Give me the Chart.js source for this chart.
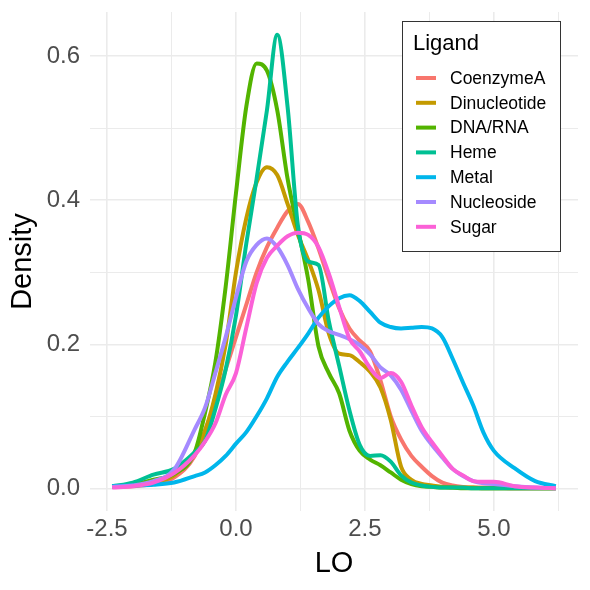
<!DOCTYPE html>
<html>
<head>
<meta charset="utf-8">
<script src="https://cdn.jsdelivr.net/npm/chart.js@4.4.1/dist/chart.umd.min.js"></script>
<style>
  html, body { margin: 0; padding: 0; background: #fff; }
  canvas { display: block; }
</style>
</head>
<body>
<canvas id="densityChart" width="590" height="590"></canvas>
<script>
const lo = [-2.4, -2.0, -1.6, -1.2, -0.8, -0.6, -0.4, -0.2, 0, 0.2, 0.4, 0.6, 0.8, 1.0, 1.2, 1.4, 1.6, 1.8, 2.0, 2.2,
            2.4, 2.6, 2.8, 3.0, 3.2, 3.4, 3.6, 3.8, 4.0, 4.2, 4.4, 4.6, 4.8, 5.0, 5.4, 5.8, 6.2];

const ligands = ['CoenzymeA', 'Dinucleotide', 'DNA/RNA', 'Heme', 'Metal', 'Nucleoside', 'Sugar'];
const colors = ['#F8766D', '#C49A00', '#53B400', '#00C094', '#00B6EB', '#A58AFF', '#FB61D7'];

// density values per ligand
const coenzymeA = [0.002, 0.003, 0.006, 0.015, 0.045, 0.08, 0.12, 0.165, 0.21, 0.255, 0.3, 0.335, 0.362, 0.385, 0.395, 0.37, 0.333, 0.29, 0.25, 0.222,
                   0.205, 0.19, 0.15, 0.1, 0.068, 0.045, 0.03, 0.017, 0.008, 0.004, 0.002, 0.001, 0.001, 0.001, 0, 0, 0];
const dinucleotide = [0.002, 0.004, 0.008, 0.018, 0.05, 0.08, 0.13, 0.2, 0.3, 0.375, 0.425, 0.446, 0.435, 0.395, 0.352, 0.317, 0.275, 0.215, 0.187, 0.185,
                      0.175, 0.162, 0.14, 0.095, 0.03, 0.012, 0.006, 0.004, 0.002, 0.001, 0.001, 0.001, 0, 0, 0, 0, 0];
const dnaRna = [0.002, 0.005, 0.012, 0.02, 0.05, 0.105, 0.175, 0.28, 0.41, 0.53, 0.59, 0.58, 0.525, 0.43, 0.36, 0.29, 0.197, 0.16, 0.132, 0.08,
                0.052, 0.04, 0.032, 0.022, 0.012, 0.006, 0.003, 0.002, 0.001, 0.001, 0, 0, 0, 0, 0, 0, 0];
const heme = [0.003, 0.008, 0.019, 0.027, 0.05, 0.066, 0.11, 0.165, 0.24, 0.34, 0.43, 0.525, 0.63, 0.53, 0.365, 0.315, 0.31, 0.232, 0.17, 0.108,
              0.06, 0.045, 0.046, 0.037, 0.018, 0.008, 0.004, 0.002, 0.001, 0.001, 0.001, 0, 0, 0, 0, 0, 0];
const metal = [0.003, 0.004, 0.005, 0.008, 0.017, 0.022, 0.032, 0.045, 0.062, 0.078, 0.1, 0.125, 0.155, 0.176, 0.195, 0.215, 0.237, 0.253, 0.264, 0.268,
               0.26, 0.245, 0.23, 0.224, 0.222, 0.223, 0.224, 0.222, 0.21, 0.18, 0.147, 0.115, 0.077, 0.052, 0.028, 0.01, 0.003];
const nucleoside = [0.002, 0.004, 0.01, 0.026, 0.082, 0.112, 0.16, 0.21, 0.265, 0.315, 0.338, 0.347, 0.335, 0.31, 0.277, 0.25, 0.228, 0.218, 0.213, 0.207,
                    0.199, 0.186, 0.168, 0.157, 0.137, 0.108, 0.08, 0.06, 0.043, 0.027, 0.017, 0.01, 0.007, 0.006, 0.003, 0.001, 0];
const sugar = [0.001, 0.003, 0.008, 0.021, 0.046, 0.065, 0.09, 0.13, 0.16, 0.223, 0.285, 0.32, 0.337, 0.35, 0.355, 0.352, 0.335, 0.298, 0.252, 0.208,
               0.19, 0.167, 0.153, 0.16, 0.148, 0.115, 0.085, 0.064, 0.045, 0.027, 0.018, 0.01, 0.009, 0.009, 0.003, 0.001, 0];

const series = [coenzymeA, dinucleotide, dnaRna, heme, metal, nucleoside, sugar];

// tick positions (majors get labels, minors only a grid line)
const xTicks = [-2.5, -1.25, 0, 1.25, 2.5, 3.75, 5, 6.25];
const yTicks = [0, 0.1, 0.2, 0.3, 0.4, 0.5, 0.6];

const FONT = "'Liberation Sans', Arial, sans-serif";
const isMajorX = v => Math.abs(v / 2.5 - Math.round(v / 2.5)) < 1e-6;
const isMajorY = v => Math.round(v * 10) % 2 === 0;

// legend box drawn inside the panel, ggplot style
const legendBox = {
    id: 'legendBox',
    afterDraw(chart) {
        const c = chart.ctx;
        const x = 402, y = 21, w = 158, h = 230;
        c.save();
        c.fillStyle = '#fff';
        c.fillRect(x, y, w, h);
        c.strokeStyle = '#333';
        c.lineWidth = 1;
        c.strokeRect(x + 0.5, y + 0.5, w, h);
        c.fillStyle = '#000';
        c.textBaseline = 'middle';
        c.font = '22px ' + FONT;
        c.fillText('Ligand', 413, 44);
        c.font = '17.5px ' + FONT;
        ligands.forEach((name, i) => {
            const cy = 78 + i * 24.8;
            c.strokeStyle = colors[i];
            c.lineWidth = 4;
            c.beginPath();
            c.moveTo(416, cy);
            c.lineTo(436, cy);
            c.stroke();
            c.fillStyle = '#000';
            c.fillText(name, 450, cy + 1);
        });
        c.restore();
    }
};

const ctx = document.getElementById('densityChart').getContext('2d');
new Chart(ctx, {
    type: 'line',
    data: {
        labels: lo,
        datasets: ligands.map((name, i) => ({
            label: name,
            data: lo.map((x, j) => ({ x: x, y: series[i][j] })),
            borderColor: colors[i],
            borderWidth: 4,
            pointRadius: 0,
            fill: false,
            cubicInterpolationMode: 'monotone',
            order: ligands.length - 1 - i
        }))
    },
    options: {
        responsive: false,
        animation: false,
        devicePixelRatio: 1,
        layout: { padding: { left: 0, right: 12, top: 12, bottom: 0 } },
        plugins: { legend: { display: false }, tooltip: { enabled: false } },
        scales: {
            x: {
                type: 'linear',
                min: -2.83,
                max: 6.63,
                afterBuildTicks: s => { s.ticks = xTicks.map(v => ({ value: v })); },
                afterFit: s => { s.height = 79; s.paddingLeft = 0; s.paddingRight = 0; },
                ticks: {
                    autoSkip: false,
                    maxRotation: 0,
                    padding: 4,
                    color: '#4D4D4D',
                    font: { family: FONT, size: 24 },
                    callback: v => isMajorX(v) ? v.toFixed(1) : ''
                },
                grid: {
                    color: '#EBEBEB',
                    lineWidth: c => isMajorX(c.tick.value) ? 1.6 : 1,
                    drawTicks: false
                },
                border: { display: false },
                title: {
                    display: true,
                    text: 'LO',
                    color: '#000',
                    font: { family: FONT, size: 29 },
                    padding: { top: 0, bottom: 9 }
                }
            },
            y: {
                min: -0.0315,
                max: 0.6615,
                afterBuildTicks: s => { s.ticks = yTicks.map(v => ({ value: v })); },
                afterFit: s => { s.width = 90; s.paddingTop = 0; s.paddingBottom = 0; },
                ticks: {
                    autoSkip: false,
                    padding: 10,
                    color: '#4D4D4D',
                    font: { family: FONT, size: 24 },
                    callback: v => isMajorY(v) ? v.toFixed(1) : ''
                },
                grid: {
                    color: '#EBEBEB',
                    lineWidth: c => isMajorY(c.tick.value) ? 1.6 : 1,
                    drawTicks: false
                },
                border: { display: false },
                title: {
                    display: true,
                    text: 'Density',
                    color: '#000',
                    font: { family: FONT, size: 29 },
                    padding: { top: 6, bottom: 0 }
                }
            }
        }
    },
    plugins: [legendBox]
});
</script>
</body>
</html>
